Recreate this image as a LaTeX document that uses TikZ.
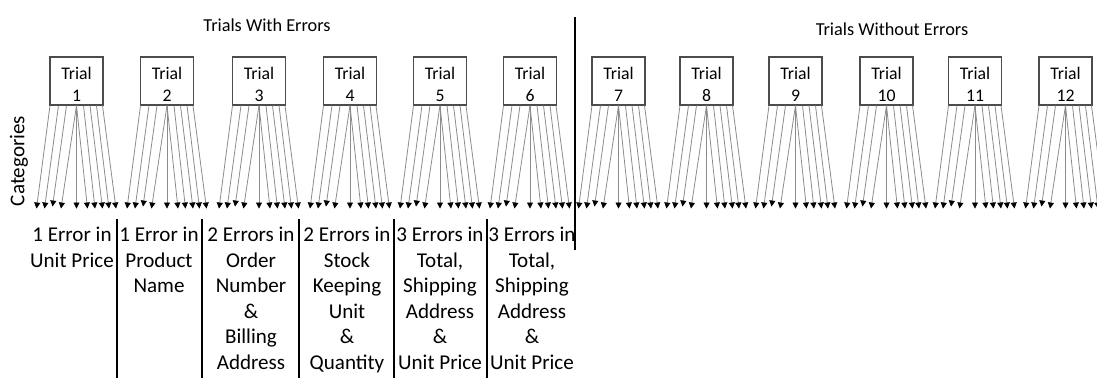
\documentclass[tikz,border=0pt]{standalone}
\usepackage{fontspec}
\setmainfont{Carlito}
\usepackage{tikz}
\usetikzlibrary{calc,arrows.meta}

\begin{document}
\begin{tikzpicture}[x=0.75pt, y=-0.75pt,
        trialbox/.style={draw=black!70, line width=0.8pt, minimum width=39.75pt, minimum height=36pt, inner sep=0pt, align=center, font=\fontsize{13.3}{17}\selectfont},
        catarrow/.style={draw=black!45, line width=0.6pt, -{Triangle[length=4.5pt, width=4.5pt, color=black]}},
        catlabel/.style={anchor=north, inner sep=0pt, align=center, font=\fontsize{15.8}{19.1}\selectfont},
        sepline/.style={line width=1.4pt}]
        \useasboundingbox (0,0) rectangle (1097,378);

        % Group titles and the dividing line
        \node[font=\fontsize{13.7}{16}\selectfont] (witherr) at (267,25) {Trials With Errors};
        \node[font=\fontsize{13.7}{16}\selectfont] (noerr) at (892,29) {Trials Without Errors};
        \draw[sepline] (575,17) -- (575,250);

        % Side label
        \node[rotate=90, font=\fontsize{15.8}{19}\selectfont] (cats) at (19,161) {Categories};

        % Trial boxes in a row
        \foreach \i/\cx in {1/76.5, 2/167, 3/259, 4/350, 5/440, 6/530, 7/618.5, 8/706.5, 9/795.5, 10/886.5, 11/975, 12/1065.5}
            \node[trialbox] (trial\i) at (\cx,81) {\rule{0pt}{14.5pt}Trial\\\i};

        % Arrows from each trial down to the categories
        \foreach \i in {1,...,12}
            \foreach \s/\e/\d [count=\k] in {-26.5/-40/103, -18/-32/103, -10/-24/101, 0/-15.5/103, 0/0/103, 0/11/103, 7/18.5/103, 13.5/26/103, 20/32.5/103, 26/39.5/103} {
                \coordinate (tip\i-\k) at ($(trial\i.south)+(\e,\d)$);
                \draw[catarrow] ($(trial\i.south)+(\s,0)$) -- (tip\i-\k);
            }

        % Category labels under the trials with errors
        \node[catlabel] (cat1) at (72,227) {1 Error in\\Unit Price};
        \node[catlabel] (cat2) at (159,227) {1 Error in\\Product\\Name};
        \node[catlabel] (cat3) at (251,227) {2 Errors in\\Order\\Number\\\&\\Billing\\Address};
        \node[catlabel] (cat4) at (347,227) {2 Errors in\\Stock\\Keeping\\Unit\\\&\\Quantity};
        \node[catlabel] (cat5) at (440,227) {3 Errors in\\Total,\\Shipping\\Address\\\&\\Unit Price};
        \node[catlabel] (cat6) at (532,227) {3 Errors in\\Total,\\Shipping\\Address\\\&\\Unit Price};

        % Lines between the category columns
        \foreach \sx in {117, 202, 299, 394, 487}
            \draw[sepline] (\sx,219) -- (\sx,378);
    \end{tikzpicture}
\end{document}
